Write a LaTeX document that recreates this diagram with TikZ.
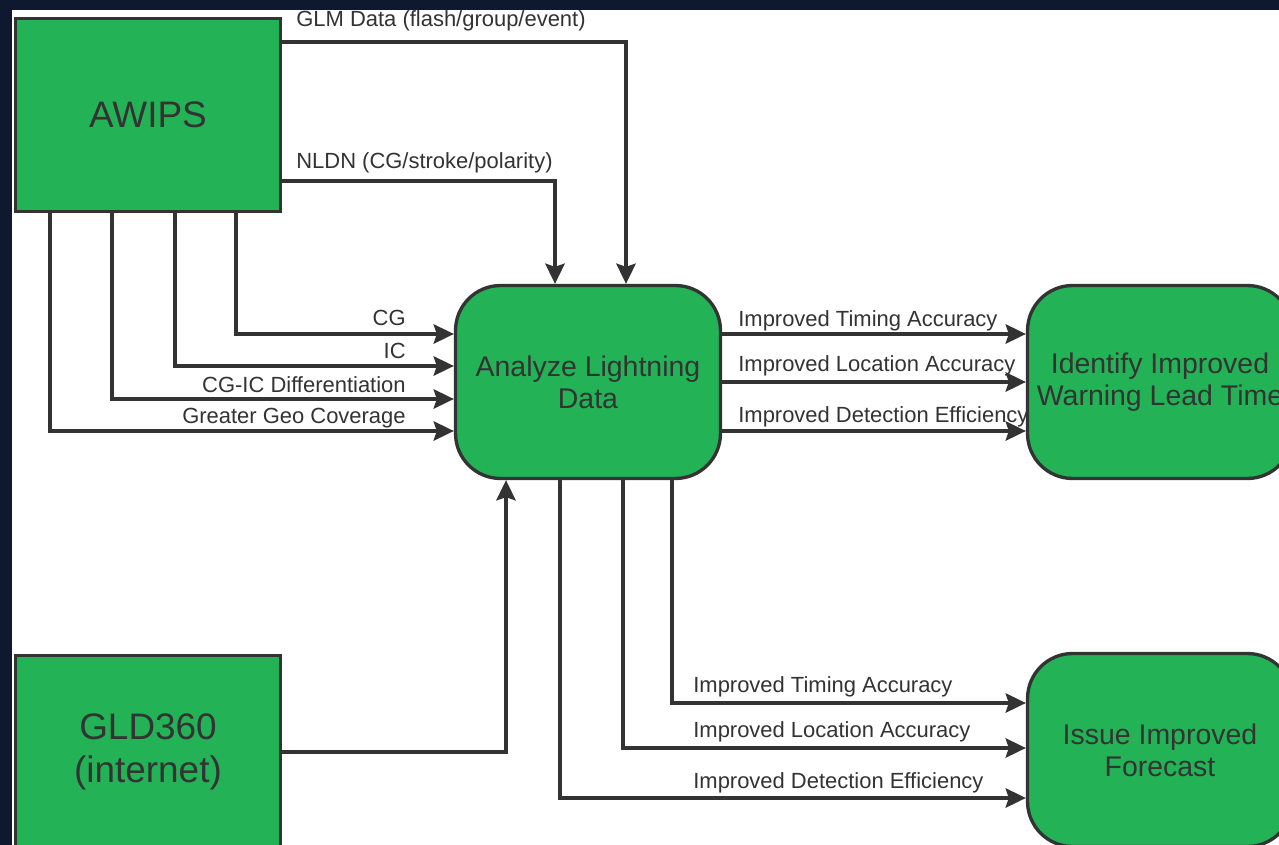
\documentclass[tikz,border=0pt]{standalone}
\usepackage{fontspec}
\setmainfont{Liberation Sans}
\usetikzlibrary{arrows.meta}

\definecolor{boxgreen}{RGB}{35,178,86}
\definecolor{linegray}{RGB}{51,51,51}
\definecolor{framenavy}{RGB}{14,25,48}

\tikzset{
    box/.style={draw=linegray, fill=boxgreen, line width=1.9pt, minimum width=5.3cm,
        minimum height=3.86cm, text=linegray, align=center, inner sep=0pt},
    roundbox/.style={box, rounded corners=0.9cm},
    flow/.style={draw=linegray, line width=1.9pt, -{Stealth[length=11.5pt,width=11pt,inset=1.8pt]}},
    lbl/.style={text=linegray, font=\fontsize{12.5}{15}\selectfont, inner sep=0pt},
}

\begin{document}
\begin{tikzpicture}[x=0.02cm, y=-0.02cm]
    \useasboundingbox (0,0) rectangle (1279,845);
    \clip (0,0) rectangle (1279,845);
    \fill [framenavy] (0,0) rectangle (1279,845);
    \fill [white] (12,10) rectangle (1279,845);

    \node [box, font=\fontsize{21}{24}\selectfont] (awips) at (148,115) {AWIPS};
    \node [box, font=\fontsize{21}{24}\selectfont] (gld) at (148,752) {GLD360\\(internet)};
    \node [roundbox, font=\fontsize{16.2}{18.2}\selectfont] (analyze) at (588,382) {Analyze Lightning\\Data};
    \node [roundbox, font=\fontsize{16.2}{18.2}\selectfont] (identify) at (1160,382) {Identify Improved\\Warning Lead Time};
    \node [roundbox, font=\fontsize{16.2}{18.2}\selectfont] (forecast) at (1160,750) {Issue Improved\\Forecast};

    \draw [flow] (awips.east |- 0,42) -| (analyze.north -| 626,0);
    \draw [flow] (awips.east |- 0,181) -| (analyze.north -| 555,0);
    \node [lbl, anchor=base west] (glmlbl) at (296,27) {GLM Data (flash/group/event)};
    \node [lbl, anchor=base west] (nldnlbl) at (296,168) {NLDN (CG/stroke/polarity)};

    \draw [flow] (awips.south -| 236,0) |- (analyze.west |- 0,334);
    \draw [flow] (awips.south -| 175,0) |- (analyze.west |- 0,366);
    \draw [flow] (awips.south -| 112,0) |- (analyze.west |- 0,399);
    \draw [flow] (awips.south -| 50,0) |- (analyze.west |- 0,431);
    \node [lbl, anchor=base east] (cglbl) at (406,325) {CG};
    \node [lbl, anchor=base east] (iclbl) at (406,358) {IC};
    \node [lbl, anchor=base east] (difflbl) at (406,392) {CG-IC Differentiation};
    \node [lbl, anchor=base east] (geolbl) at (406,423) {Greater Geo Coverage};

    \draw [flow] (gld.east) -| (analyze.south -| 506,0);

    \draw [flow] (analyze.east |- 0,334) -- (identify.west |- 0,334);
    \draw [flow] (analyze.east) -- (identify.west);
    \draw [flow] (analyze.east |- 0,431) -- (identify.west |- 0,431);
    \node [lbl, anchor=base west] (timelbl) at (738,326) {Improved Timing Accuracy};
    \node [lbl, anchor=base west] (loclbl) at (738,371) {Improved Location Accuracy};
    \node [lbl, anchor=base west] (detlbl) at (738,422) {Improved Detection Efficiency};

    \draw [flow] (analyze.south -| 672,0) |- (forecast.west |- 0,703);
    \draw [flow] (analyze.south -| 623,0) |- (forecast.west |- 0,748);
    \draw [flow] (analyze.south -| 560,0) |- (forecast.west |- 0,798);
    \node [lbl, anchor=base west] (timelbl2) at (693,692) {Improved Timing Accuracy};
    \node [lbl, anchor=base west] (loclbl2) at (693,737) {Improved Location Accuracy};
    \node [lbl, anchor=base west] (detlbl2) at (693,788) {Improved Detection Efficiency};
\end{tikzpicture}
\end{document}
